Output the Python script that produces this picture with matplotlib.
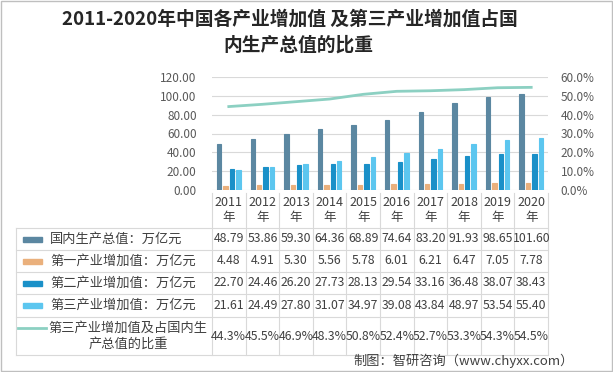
import numpy as np
import matplotlib.pyplot as plt
from matplotlib.patches import Rectangle

plt.rcParams['font.family'] = ['Noto Sans CJK SC', 'DejaVu Sans']

years = ['2011', '2012', '2013', '2014', '2015', '2016', '2017', '2018', '2019', '2020']
gdp = [48.79, 53.86, 59.30, 64.36, 68.89, 74.64, 83.20, 91.93, 98.65, 101.60]
primary = [4.48, 4.91, 5.30, 5.56, 5.78, 6.01, 6.21, 6.47, 7.05, 7.78]
secondary = [22.70, 24.46, 26.20, 27.73, 28.13, 29.54, 33.16, 36.48, 38.07, 38.43]
tertiary = [21.61, 24.49, 27.80, 31.07, 34.97, 39.08, 43.84, 48.97, 53.54, 55.40]
share = [44.3, 45.5, 46.9, 48.3, 50.8, 52.4, 52.7, 53.3, 54.3, 54.5]

labels = ['国内生产总值：万亿元', '第一产业增加值：万亿元', '第二产业增加值：万亿元',
          '第三产业增加值：万亿元', '第三产业增加值及占国内生\n产总值的比重']
colors = ['#5b87a1', '#eab07c', '#1a90c8', '#5cc6ef']
line_color = '#8cd0c2'
grid_c = '#d9d9d9'
txt_c = '#404040'

W, H = 613, 372
fig = plt.figure(figsize=(W / 100, H / 100), dpi=100)

# plot area in pixels
L, R, T, B = 212, 548, 77, 190
ax = fig.add_axes([L / W, 1 - B / H, (R - L) / W, (B - T) / H])
x = np.arange(len(years))
offs = [-0.285, -0.095, 0.095, 0.285]
for vals, c, o in zip([gdp, primary, secondary, tertiary], colors, offs):
    ax.bar(x + o, vals, width=0.13, color=c, edgecolor=c, linewidth=0.8, zorder=3)
ax.set_xlim(-0.5, len(years) - 0.5)
ax.set_ylim(0, 120)
ax.set_yticks(np.arange(0, 121, 20))
ax.set_yticklabels([f'{v:.2f}' for v in np.arange(0, 121, 20)])
ax.set_xticks([])
ax.grid(axis='y', color=grid_c, linewidth=0.8, zorder=0)
ax.tick_params(axis='y', length=0, pad=11, labelsize=8.5, labelcolor='#595959')
for s in ax.spines.values():
    s.set_visible(False)

ax2 = ax.twinx()
ax2.plot(x, np.array(share) / 100, color=line_color, linewidth=2, zorder=4)
ax2.set_ylim(0, 0.6)
ax2.set_yticks(np.arange(0, 0.61, 0.1))
ax2.set_yticklabels([f'{v * 100:.1f}%' for v in np.arange(0, 0.61, 0.1)])
ax2.tick_params(axis='y', length=0, pad=9, labelsize=8.5, labelcolor='#595959')
for s in ax2.spines.values():
    s.set_visible(False)

# data table drawn in pixel coordinates
tb = fig.add_axes([0, 0, 1, 1], zorder=-1)
tb.set_xlim(0, W)
tb.set_ylim(H, 0)
tb.axis('off')
cw = (R - L) / len(years)
rows_y = [228, 250, 272, 294, 317, 355]
tl = 16
for i in range(len(years) + 1):
    tb.plot([L + i * cw] * 2, [B + 3, rows_y[-1]], color=grid_c, lw=0.8)
tb.plot([tl, tl], [rows_y[0], rows_y[-1]], color=grid_c, lw=0.8)
for y in rows_y:
    tb.plot([tl, R], [y, y], color=grid_c, lw=0.8)

for i, yr in enumerate(years):
    tb.text(L + (i + 0.5) * cw, (B + 3 + rows_y[0]) / 2, yr + '\n年', ha='center', va='center',
            fontsize=9, color=txt_c, linespacing=1.2)

table_vals = [[f'{v:.2f}' for v in gdp], [f'{v:.2f}' for v in primary],
              [f'{v:.2f}' for v in secondary], [f'{v:.2f}' for v in tertiary],
              [f'{v:.1f}%' for v in share]]
for r, vals in enumerate(table_vals):
    cy = (rows_y[r] + rows_y[r + 1]) / 2
    for i, v in enumerate(vals):
        tb.text(L + (i + 0.5) * cw, cy, v, ha='center', va='center', fontsize=8.8, color=txt_c)
    if r < 4:
        tb.add_patch(Rectangle((23, cy - 2.5), 19, 5, color=colors[r]))
        tb.text(50, cy, labels[r], ha='left', va='center', fontsize=9.5, color=txt_c)
    else:
        tb.plot([18, 46], [cy - 8, cy - 8], color=line_color, lw=2)
        tb.text(128, cy, labels[r], ha='center', va='center', fontsize=9.5, color=txt_c,
                linespacing=1.25)

# title, two centred lines
fig.text(290 / W, 1 - 19 / H, '2011-2020年中国各产业增加值 及第三产业增加值占国',
         ha='center', va='center', fontsize=13.5, fontweight='bold', color='#262626')
fig.text(298 / W, 1 - 45 / H, '内生产总值的比重',
         ha='center', va='center', fontsize=13.5, fontweight='bold', color='#262626')
fig.text(574 / W, 1 - 361 / H, '制图：智研咨询（www.chyxx.com）', ha='right', va='center',
         fontsize=9.5, color=txt_c)

fig.add_artist(Rectangle((0.001, 0.002), 0.997, 0.995, transform=fig.transFigure,
                         fill=False, edgecolor='#bfbfbf', lw=1))

fig.savefig('out.png', dpi=100)
